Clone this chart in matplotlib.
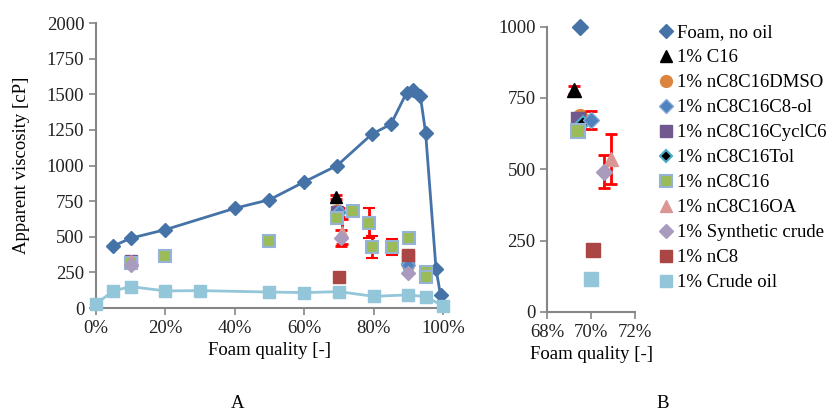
import matplotlib
matplotlib.use("Agg")
import matplotlib.pyplot as plt
from matplotlib.ticker import FuncFormatter

# foam quality in %, apparent viscosity in cP
foam_x = [5, 10, 20, 40, 50, 60, 69.5, 79.5, 85, 89.5, 91.5, 93.5, 95, 98, 99.3]
foam_y = [435, 490, 550, 700, 760, 885, 1000, 1220, 1290, 1510, 1530, 1485, 1230, 275, 90]

crude_x = [0, 5, 10, 20, 30, 50, 60, 70, 80, 90, 95, 100]
crude_y = [30, 120, 150, 120, 122, 112, 108, 115, 82, 92, 80, 15]

c16_x = [69.2]
c16_y = [778]
c16_err = [15]

dmso_x = [69.5, 90]
dmso_y = [687, 295]

c8ol_x = [70.0, 90]
c8ol_y = [673, 300]
c8ol_err = [32, 0]

cyclc6_x = [10, 69.4, 90]
cyclc6_y = [330, 675, 360]

tol_x = [69.6, 90]
tol_y = [662, 312]

nc8c16_x = [10, 20, 50, 69.4, 74.2, 78.7, 79.5, 85.2, 90.2, 95, 95]
nc8c16_y = [318, 362, 468, 635, 678, 596, 428, 428, 492, 252, 218]
nc8c16_err = [0, 0, 0, 0, 0, 105, 76, 55, 0, 0, 0]

oa_x = [10, 70.9]
oa_y = [330, 535]
oa_err = [0, 88]

synth_x = [10, 70.6, 90]
synth_y = [305, 492, 245]
synth_err = [0, 57, 0]

nc8_x = [70.1, 90]
nc8_y = [217, 375]
nc8_err = [18, 20]

plt.rcParams['font.family'] = ['Liberation Serif', 'DejaVu Serif']
plt.rcParams['font.size'] = 13.5

fig = plt.figure(figsize=(8.32, 4.16), dpi=100)
axA = fig.add_axes([0.1154, 0.2596, 0.417, 0.685])
axB = fig.add_axes([0.658, 0.25, 0.1054, 0.686])

spine_c = '#868686'
eb = dict(ecolor='red', elinewidth=2, capsize=4, capthick=2, zorder=4)


def window(xs, ys, lo, hi):
    keep = [(x, y) for x, y in zip(xs, ys) if lo <= x <= hi]
    return [k[0] for k in keep], [k[1] for k in keep]


def draw(ax, ms, zoom):
    h = []
    if zoom:
        fx, fy = window(foam_x, foam_y, 68, 72)
        cx, cy = window(crude_x, crude_y, 68, 72)
        ls = 'none'
    else:
        fx, fy, cx, cy = foam_x, foam_y, crude_x, crude_y
        ls = '-'
    h += ax.plot(fx, fy, marker='D', ls=ls, color='#4572A7', lw=2, ms=ms * 0.85,
                 clip_on=False, zorder=3)
    h.append(ax.errorbar(c16_x, c16_y, yerr=c16_err, fmt='^', color='black', ms=ms, **eb)[0])
    h += ax.plot(dmso_x, dmso_y, 'o', color='#DB843D', ms=ms, zorder=4)
    h.append(ax.errorbar(c8ol_x, c8ol_y, yerr=c8ol_err, fmt='D', color='#4F81BD',
                         mec='#7FA6D6', ms=ms * 0.85, **eb)[0])
    h += ax.plot(cyclc6_x, cyclc6_y, 's', color='#71588F', ms=ms, zorder=4)
    h += ax.plot(tol_x, tol_y, 'D', color='black', mec='#4BACC6', mew=1.5, ms=ms * 0.75,
                 zorder=4)
    h.append(ax.errorbar(nc8c16_x, nc8c16_y, yerr=nc8c16_err, fmt='s', color='#9BBB59',
                         mec='#95B3D7', mew=1.5, ms=ms, **eb)[0])
    h.append(ax.errorbar(oa_x, oa_y, yerr=oa_err, fmt='^', color='#D99694', ms=ms, **eb)[0])
    h.append(ax.errorbar(synth_x, synth_y, yerr=synth_err, fmt='D', color='#A99BBD',
                         ms=ms * 0.85, **eb)[0])
    h.append(ax.errorbar(nc8_x, nc8_y, yerr=nc8_err, fmt='s', color='#AA4643', ms=ms, **eb)[0])
    h += ax.plot(cx, cy, marker='s', ls=ls, color='#93C6D9', lw=2, ms=ms, clip_on=False,
                 zorder=3)
    for s in ['top', 'right']:
        ax.spines[s].set_visible(False)
    for s in ['left', 'bottom']:
        ax.spines[s].set_color(spine_c)
        ax.spines[s].set_linewidth(1.5)
    ax.tick_params(color=spine_c, width=1.2, length=5, labelsize=13.5, colors='#222222')
    ax.xaxis.set_major_formatter(FuncFormatter(lambda v, p: '%d%%' % round(v)))
    ax.set_xlabel('Foam quality [-]', fontsize=13.5)
    return h


draw(axA, 8, False)
axA.set_xlim(0, 100)
axA.set_ylim(0, 2000)
axA.set_xticks([0, 20, 40, 60, 80, 100])
axA.set_yticks(range(0, 2001, 250))
axA.set_ylabel('Apparent viscosity [cP]', fontsize=13.5, labelpad=12)

handles = draw(axB, 10, True)
axB.set_xlim(68, 72)
axB.set_ylim(0, 1000)
axB.set_xticks([68, 70, 72])
axB.set_yticks(range(0, 1001, 250))

labels = ['Foam, no oil', '1% C16', '1% nC8C16DMSO', '1% nC8C16C8-ol', '1% nC8C16CyclC6',
          '1% nC8C16Tol', '1% nC8C16', '1% nC8C16OA', '1% Synthetic crude', '1% nC8',
          '1% Crude oil']
leg = fig.legend(handles, labels, loc='upper left', bbox_to_anchor=(0.785, 0.96),
                 frameon=False, fontsize=13.5, handlelength=0.6, handletextpad=0.3,
                 labelspacing=0.42, borderaxespad=0, markerscale=0.85)
for lh in leg.get_lines():
    lh.set_linestyle('none')

fig.text(0.285, 0.02, 'A', fontsize=13.5, ha='center')
fig.text(0.797, 0.02, 'B', fontsize=13.5, ha='center')

fig.savefig('out.png', dpi=100)
